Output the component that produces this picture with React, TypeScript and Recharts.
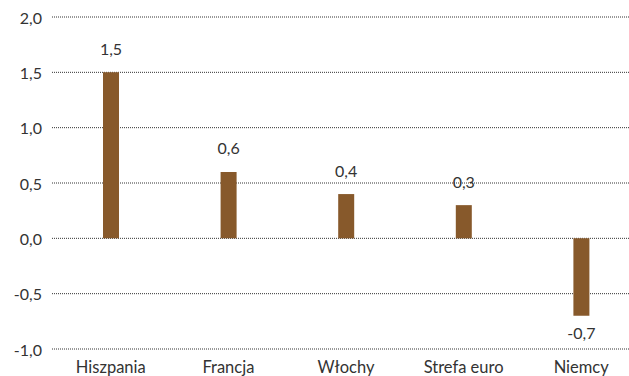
import React from "react";
import {
  BarChart,
  Bar,
  XAxis,
  YAxis,
  CartesianGrid,
  LabelList,
  Cell,
} from "recharts";

const countries = ["Hiszpania", "Francja", "Włochy", "Strefa euro", "Niemcy"];
const values = [1.5, 0.6, 0.4, 0.3, -0.7];
const yTicks = [-1, -0.5, 0, 0.5, 1, 1.5, 2];

const data = countries.map((name, i) => ({ name, value: values[i] }));

const BAR_COLOR = "#87592b";
const TEXT_COLOR = "#333333";
const FONT = "Lato, 'Open Sans', sans-serif";

const fmt = (v: number) => v.toFixed(1).replace(".", ",");

const YTick = (props: any) => {
  const { x, y, payload } = props;
  return (
    <text
      x={x}
      y={y}
      textAnchor="end"
      dominantBaseline="central"
      fontSize={16}
      fontFamily={FONT}
      fill={TEXT_COLOR}
    >
      {fmt(payload.value)}
    </text>
  );
};

const XTick = (props: any) => {
  const { x, y, payload } = props;
  return (
    <text
      x={x}
      y={y + 10}
      textAnchor="middle"
      dominantBaseline="central"
      fontSize={16.5}
      fontFamily={FONT}
      fill={TEXT_COLOR}
    >
      {payload.value}
    </text>
  );
};

const ValueLabel = (props: any) => {
  const { x, y, width, height, value } = props;
  const cx = x + width / 2;
  // negative bars: y is the zero line, height is positive-down
  const top = Math.min(y, y + height);
  const bottom = Math.max(y, y + height);
  const ty = value < 0 ? bottom + 17 : top - 24;
  return (
    <text
      x={cx}
      y={ty}
      textAnchor="middle"
      dominantBaseline="central"
      fontSize={16}
      fontFamily={FONT}
      fill={TEXT_COLOR}
    >
      {fmt(value)}
    </text>
  );
};

export default function App() {
  return (
    <div
      style={{
        position: "absolute",
        left: 0,
        top: 0,
        width: 629,
        height: 376,
        overflow: "hidden",
        background: "#fff",
      }}
    >
      <BarChart
        width={640}
        height={400}
        data={data}
        margin={{ top: 17, right: 0, bottom: 21, left: 0 }}
      >
        <CartesianGrid
          vertical={false}
          stroke="#333"
          strokeDasharray="1 1"
        />
        <XAxis
          dataKey="name"
          axisLine={false}
          tickLine={false}
          tick={<XTick />}
          height={30}
          interval={0}
        />
        <YAxis
          domain={[-1, 2]}
          ticks={yTicks}
          axisLine={false}
          tickLine={false}
          tick={<YTick />}
          width={52}
          tickMargin={4}
        />
        <Bar dataKey="value" barSize={16} isAnimationActive={false}>
          {data.map((d) => (
            <Cell key={d.name} fill={BAR_COLOR} />
          ))}
          <LabelList dataKey="value" content={<ValueLabel />} />
        </Bar>
      </BarChart>
    </div>
  );
}
